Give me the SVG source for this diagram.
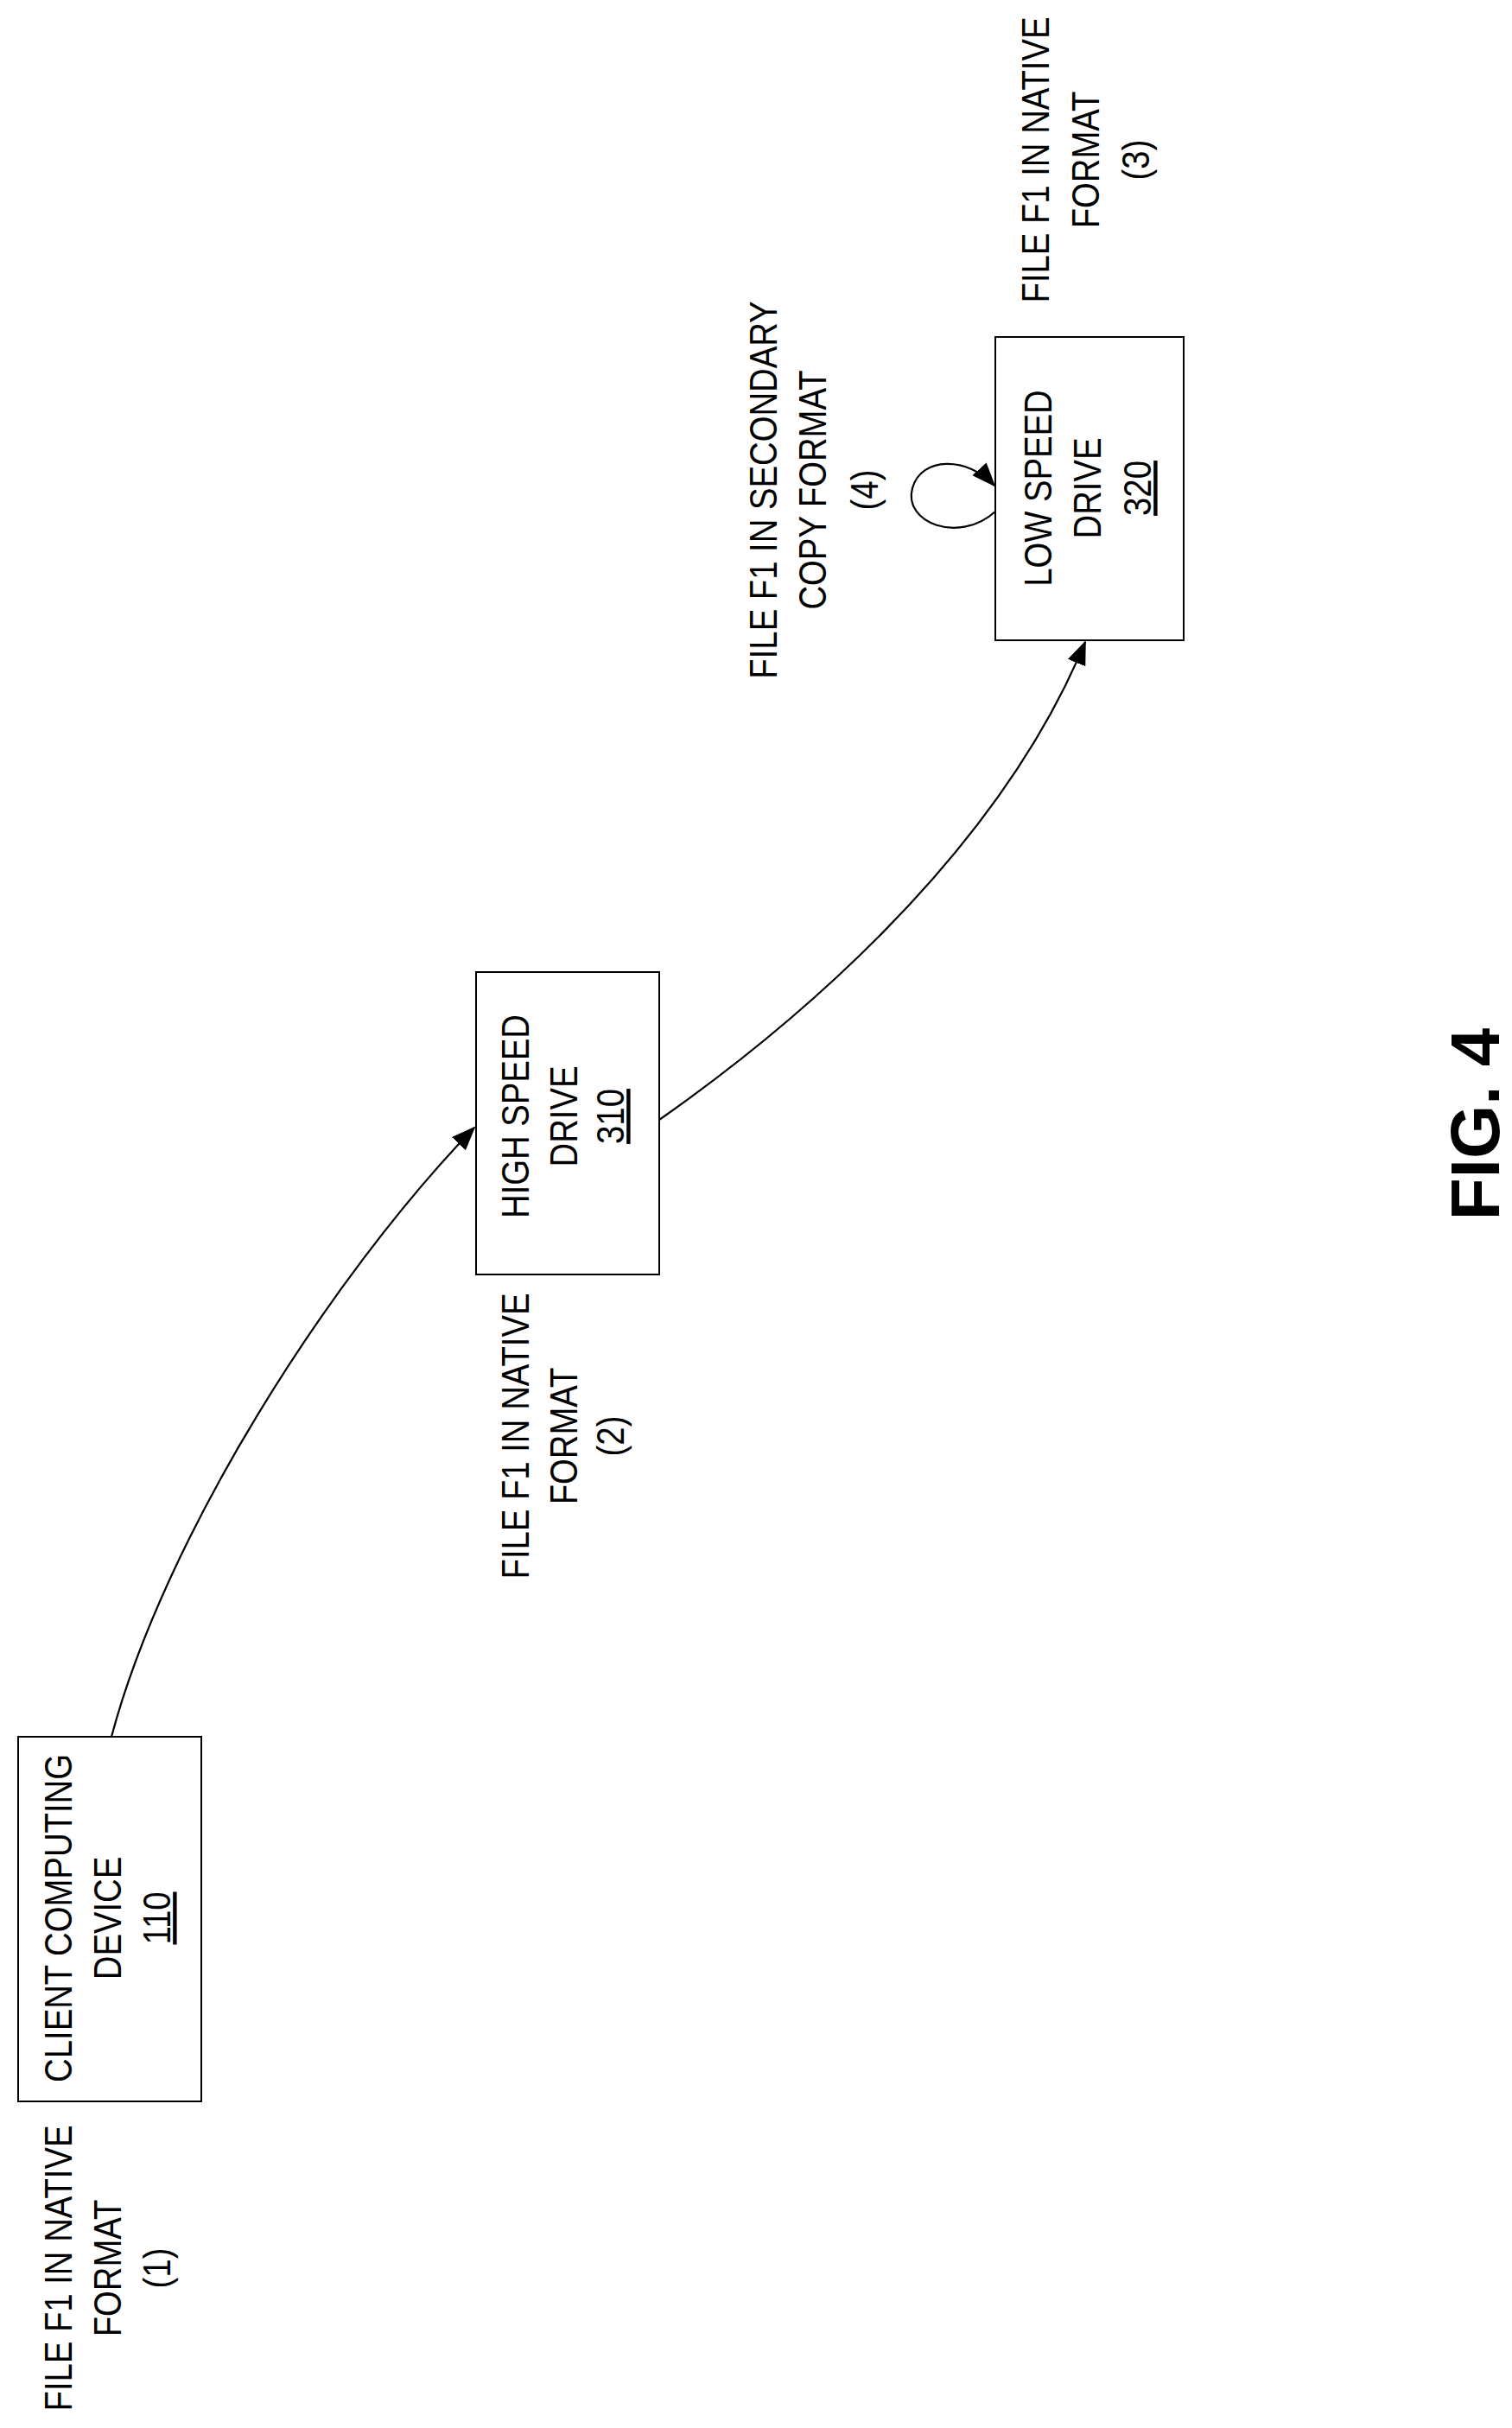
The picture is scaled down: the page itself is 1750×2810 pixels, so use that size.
<svg xmlns="http://www.w3.org/2000/svg" width="1750" height="2810" viewBox="0 0 1750 2810">
<style>
text{font-family:"Liberation Sans",Arial,sans-serif;font-size:44px;fill:#000;text-anchor:middle}
.box{fill:#fff;stroke:#000;stroke-width:2}
.c{fill:none;stroke:#000;stroke-width:2.2}
.u{text-decoration:underline}
.fig{font-size:80px;font-weight:bold}
</style>
<defs><marker id="ah" markerWidth="12" markerHeight="10" refX="11" refY="5" orient="auto" markerUnits="userSpaceOnUse" viewBox="0 0 12 10"><path d="M0,0 L12,5 L0,10 z" fill="#000"/></marker>
<marker id="ah2" markerWidth="28" markerHeight="22" refX="26" refY="11" orient="auto" markerUnits="userSpaceOnUse" viewBox="0 0 28 22"><path d="M0,0 L28,11 L0,22 z" fill="#000"/></marker></defs>
<rect width="1750" height="2810" fill="#fff"/>
<g id="connectors">
<path class="c" d="M129,2010 C190,1780 380,1480 549,1305" marker-end="url(#ah2)"/>
<path class="c" d="M763,1296 C900,1200 1150,1000 1256,743" marker-end="url(#ah2)"/>
<path class="c" d="M1152,592 C1110,630 1045,605 1056,565 C1066,528 1120,528 1151,562" marker-end="url(#ah2)"/>
</g>
<g id="client"><rect class="box" x="21" y="2010" width="212" height="422"/>
<g transform="translate(83,2220) rotate(-90) scale(0.87,1)"><text y="0">CLIENT COMPUTING</text><text y="57">DEVICE</text><text y="114" class="u">110</text></g></g>
<g id="label1" transform="translate(83,2625) rotate(-90) scale(0.87,1)"><text y="0">FILE F1 IN NATIVE</text><text y="57">FORMAT</text><text y="114">(1)</text></g>
<g id="high"><rect class="box" x="551" y="1125" width="212" height="350"/>
<g transform="translate(612,1292) rotate(-90) scale(0.87,1)"><text y="0">HIGH SPEED</text><text y="56">DRIVE</text><text y="110" class="u">310</text></g></g>
<g id="label2" transform="translate(612,1662) rotate(-90) scale(0.87,1)"><text y="0">FILE F1 IN NATIVE</text><text y="56">FORMAT</text><text y="110">(2)</text></g>
<g id="low"><rect class="box" x="1152" y="390" width="218" height="351"/>
<g transform="translate(1217,565) rotate(-90) scale(0.87,1)"><text y="0">LOW SPEED</text><text y="57">DRIVE</text><text y="115" class="u">320</text></g></g>
<g id="label3" transform="translate(1214,185) rotate(-90) scale(0.87,1)"><text y="0">FILE F1 IN NATIVE</text><text y="58">FORMAT</text><text y="116">(3)</text></g>
<g id="label4" transform="translate(899,567) rotate(-90) scale(0.87,1)"><text y="0">FILE F1 IN SECONDARY</text><text y="57">COPY FORMAT</text><text y="117">(4)</text></g>
<g id="figlabel" transform="translate(1735,1301) rotate(-90)"><text class="fig" y="0">FIG. 4</text></g>
</svg>
